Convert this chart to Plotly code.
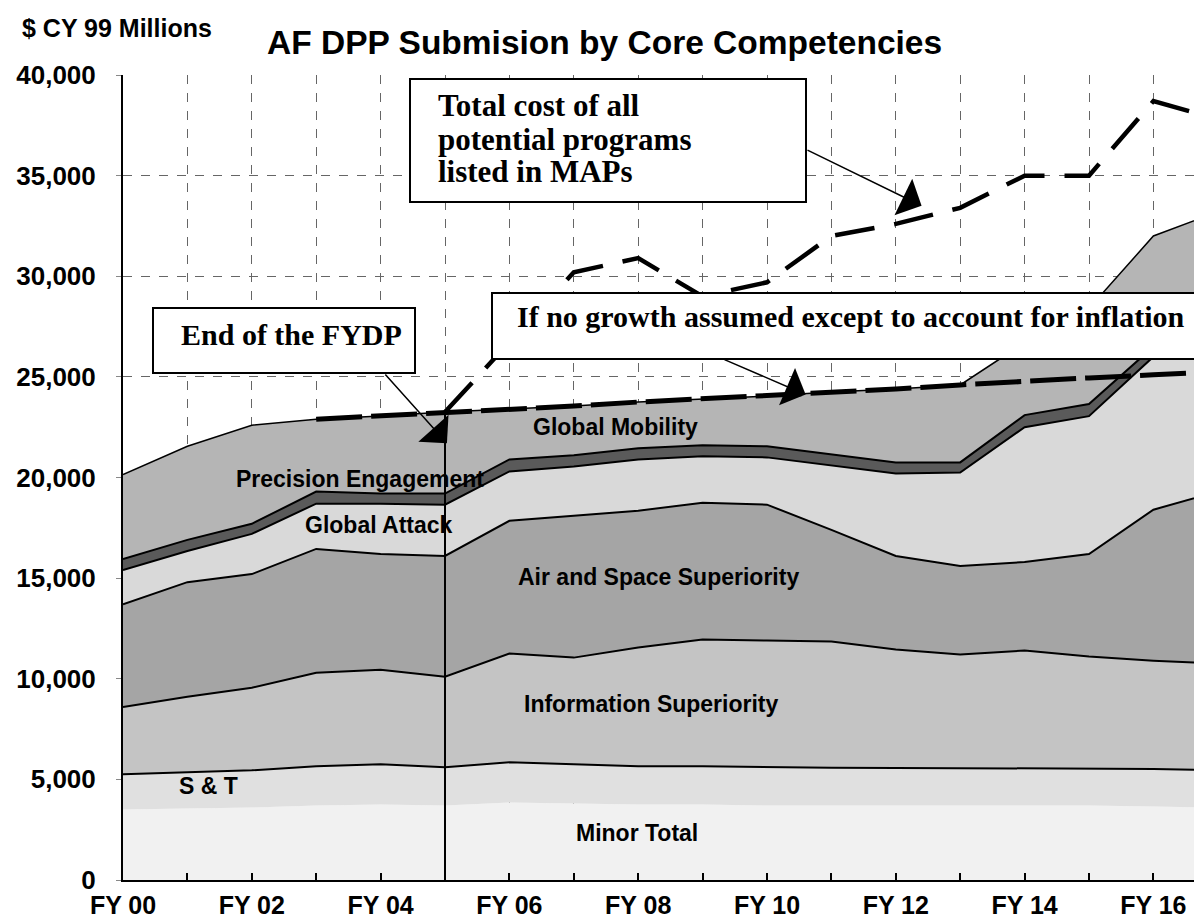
import plotly.graph_objects as go

# ---------------- data (FY00 .. FY17, $ CY99 millions) ----------------
fy = list(range(18))
fy_labels = ["FY 00", "", "FY 02", "", "FY 04", "", "FY 06", "", "FY 08", "",
             "FY 10", "", "FY 12", "", "FY 14", "", "FY 16", ""]

minor_total   = [3500, 3550, 3600, 3700, 3750, 3700, 3850, 3800, 3750, 3750, 3700, 3700, 3700, 3700, 3700, 3700, 3650, 3600]
s_and_t       = [1750, 1800, 1850, 1950, 2000, 1900, 2000, 1950, 1900, 1900, 1900, 1880, 1870, 1860, 1870, 1860, 1870, 1850]
info_sup      = [3350, 3750, 4100, 4650, 4700, 4500, 5400, 5300, 5900, 6300, 6300, 6270, 5880, 5640, 5830, 5540, 5380, 5300]
air_space_sup = [5100, 5700, 5650, 6150, 5750, 6000, 6600, 7050, 6800, 6800, 6750, 5550, 4650, 4400, 4400, 5100, 7500, 8550]
global_attack = [1700, 1550, 2000, 2250, 2500, 2550, 2450, 2450, 2550, 2300, 2350, 3200, 4100, 4650, 6700, 6850, 7600, 7800]
precision_eng = [550, 550, 500, 600, 500, 550, 600, 550, 550, 550, 550, 550, 550, 500, 600, 600, 500, 500]
global_mob    = [4200, 4650, 4900, 3600, 3850, 4050, 2500, 2450, 2300, 2300, 2500, 3100, 3650, 3850, 3600, 4750, 5500, 5600]

no_growth_fy = list(range(3, 18))
no_growth    = [22900, 23050, 23250, 23400, 23550, 23750, 23900, 24050, 24250, 24400, 24600, 24800, 24950, 25100, 25250]

maps_fy    = list(range(5, 18))
maps_total = [23250, 26700, 30200, 30900, 29000, 29700, 32000, 32600, 33400, 35000, 35000, 38700, 37800]

fydp_end = 5

# ---------------- layout geometry ----------------
W, H = 1202, 919
L, R, T, B = 115, 0, 67, 47
PW, PH = W - L - R, H - T - B
XMAX = PW / 64.4


def px_x(px):
    return (px - L) / PW


def px_y(py):
    return (H - B - py) / PH


def dx(px):
    return (px - L) / 64.4


def dy(py):
    return (H - B - py) / PH * 40000


layers = [
    ("Minor Total", minor_total, "#f1f1f1", 0),
    ("S & T", s_and_t, "#e0e0e0", 2),
    ("Information Superiority", info_sup, "#c4c4c4", 2),
    ("Air and Space Superiority", air_space_sup, "#a5a5a5", 2),
    ("Global Attack", global_attack, "#d9d9d9", 2),
    ("Precision Engagement", precision_eng, "#5a5a5a", 2),
    ("Global Mobility", global_mob, "#b5b5b5", 1.5),
]

fig = go.Figure()
for name, vals, color, lw in layers:
    fig.add_trace(go.Scatter(
        x=fy, y=vals, name=name, stackgroup="core", mode="lines",
        line=dict(color="black", width=lw), fillcolor=color,
        hoverinfo="x+y+name"))

totals = [sum(v[i] for _, v, _, _ in layers) for i in range(len(fy))]

fig.add_trace(go.Scatter(x=[fydp_end, fydp_end], y=[0, totals[fydp_end]], mode="lines",
                         line=dict(color="black", width=2), hoverinfo="skip"))
fig.add_trace(go.Scatter(x=no_growth_fy, y=no_growth, mode="lines",
                         line=dict(color="black", width=5, dash="46px,9px"),
                         name="If no growth assumed except to account for inflation"))
fig.add_trace(go.Scatter(x=maps_fy, y=maps_total, mode="lines",
                         line=dict(color="black", width=4.5, dash="40px,20px"),
                         name="Total cost of all potential programs listed in MAPs"))

sans = "Liberation Sans, Arial, sans-serif"
fig.update_layout(
    width=W, height=H, autosize=False,
    margin=dict(l=L, r=R, t=T, b=B, pad=0),
    paper_bgcolor="white", plot_bgcolor="white",
    showlegend=False,
    xaxis=dict(range=[0, XMAX], tickvals=fy, ticktext=fy_labels, showgrid=True,
               gridcolor="#666666", gridwidth=1, griddash="dash",
               showline=True, linecolor="black", linewidth=2,
               ticks="inside", ticklen=7, tickwidth=1.5, tickcolor="black",
               tickfont=dict(family=sans, size=25, color="black", weight="bold"),
               ticklabelstandoff=2, zeroline=False, automargin=False),
    yaxis=dict(range=[0, 40000], tickvals=list(range(0, 40001, 5000)), tickformat=",d",
               showgrid=True, gridcolor="#666666", gridwidth=1, griddash="dash",
               showline=True, linecolor="black", linewidth=2,
               ticks="outside", ticklen=5, tickwidth=1, tickcolor="#888888",
               tickfont=dict(family=sans, size=26, color="black", weight="bold"),
               ticklabelstandoff=15, zeroline=False, automargin=False),
)

sans_b = dict(family=sans, color="black", weight="bold")
serif = "Liberation Serif, Times New Roman, serif"

annos = []
annos.append(dict(text="AF DPP Submision by Core Competencies", x=px_x(596), y=px_y(34),
                  font=dict(sans_b, size=33.5)))
annos.append(dict(text="$ CY 99 Millions", x=px_x(12), y=px_y(20), xanchor="left",
                  font=dict(sans_b, size=25)))
region_labels = [
    ("Global Mobility", 607, 419), ("Precision Engagement", 352, 471),
    ("Global Attack", 371, 517), ("Air and Space Superiority", 650, 569),
    ("Information Superiority", 643, 696), ("S & T", 200, 778), ("Minor Total", 629, 825),
]
for txt, cx, cy in region_labels:
    annos.append(dict(text=txt, x=px_x(cx), y=px_y(cy), font=dict(sans_b, size=23)))

for a in annos:
    a.update(xref="paper", yref="paper", showarrow=False)
    a.setdefault("xanchor", "center")
    a.setdefault("yanchor", "middle")

boxes = [(402, 71, 798, 194), (484, 285, 1199, 351), (145, 300, 407, 365)]
shapes = []
for x0, y0, x1, y1 in boxes:
    shapes.append(dict(type="rect", xref="paper", yref="paper", x0=px_x(x0), x1=px_x(x1),
                       y0=px_y(y1), y1=px_y(y0), line=dict(color="black", width=2),
                       fillcolor="white", layer="above"))

box_texts = [
    ("Total cost of all", 428, 98, 31),
    ("potential programs", 428, 131, 31),
    ("listed in MAPs", 428, 163, 31),
    ("If no growth assumed except to account for inflation", 507, 308, 30),
    ("End of the FYDP", 171, 326, 30),
]
for txt, lx, cy, fs in box_texts:
    annos.append(dict(text=txt, x=px_x(lx), y=px_y(cy), xref="paper", yref="paper",
                      xanchor="left", yanchor="middle", align="left", showarrow=False,
                      font=dict(family=serif, color="black", weight="bold", size=fs)))

# arrows: (head), (tail) -- tails sit on the callout box edges
arrows = [((5.03, 21700), (dx(376), dy(365))),
          ((10.6, 24120), (dx(715), dy(351))),
          ((12.4, 33500), (dx(798), 36300))]
for (hx, hy), (tx, ty) in arrows:
    annos.append(dict(x=hx, y=hy, ax=tx, ay=ty, xref="x", yref="y", axref="x", ayref="y",
                      text="", showarrow=True, arrowhead=1, arrowsize=4.5, arrowwidth=1.5,
                      arrowcolor="black", standoff=0))

fig.update_layout(annotations=annos, shapes=shapes)
fig.write_html("out.html")
